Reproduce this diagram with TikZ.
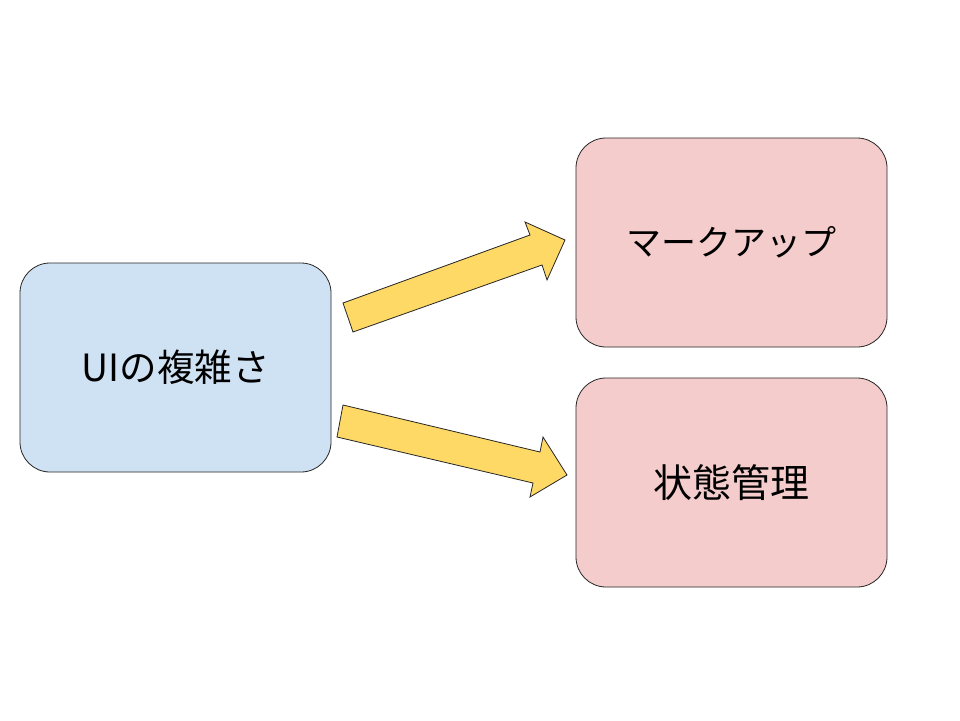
\documentclass[tikz,border=0pt]{standalone}
\usepackage{fontspec}
\setmainfont{Noto Sans CJK JP}
\begin{document}
\begin{tikzpicture}[x=1pt,y=-1pt,
  box/.style={draw=black!85, line width=0.8pt, rounded corners=30pt, minimum width=311pt, minimum height=209pt, inner sep=0pt, font=\fontsize{35}{40}\selectfont},
  blk/.style={draw=black!85, line width=0.8pt, fill=yarrow, line join=miter}]
\definecolor{bluebox}{HTML}{CFE2F3}
\definecolor{pinkbox}{HTML}{F4CCCC}
\definecolor{yarrow}{HTML}{FFD966}
\useasboundingbox (0,0) rectangle (960,720);
\fill[white] (0,0) rectangle (960,720);
\node[box, fill=bluebox, font=\fontsize{37.5}{42}\selectfont] (ui) at (175.5,367.5) {UIの複雑さ};
\node[box, fill=pinkbox] (mk) at (731.5,242.5) {マークアップ};
\node[box, fill=pinkbox, font=\fontsize{39}{44}\selectfont] (st) at (731.5,482.5) {状態管理};
% upper block arrow
\coordinate (a1) at (343,303);
\coordinate (a2) at (530,235);
\coordinate (a3) at (525,222);
\coordinate (a4) at (565,240);
\coordinate (a5) at (547,280);
\coordinate (a6) at (542,265);
\coordinate (a7) at (353,332);
\draw[blk] (a1) -- (a2) -- (a3) -- (a4) -- (a5) -- (a6) -- (a7) -- cycle;
% lower block arrow
\coordinate (b1) at (343,405);
\coordinate (b2) at (540,452);
\coordinate (b3) at (543,437);
\coordinate (b4) at (567,475);
\coordinate (b5) at (530,497);
\coordinate (b6) at (533,483);
\coordinate (b7) at (337,437);
\draw[blk] (b1) -- (b2) -- (b3) -- (b4) -- (b5) -- (b6) -- (b7) -- cycle;
\end{tikzpicture}
\end{document}
